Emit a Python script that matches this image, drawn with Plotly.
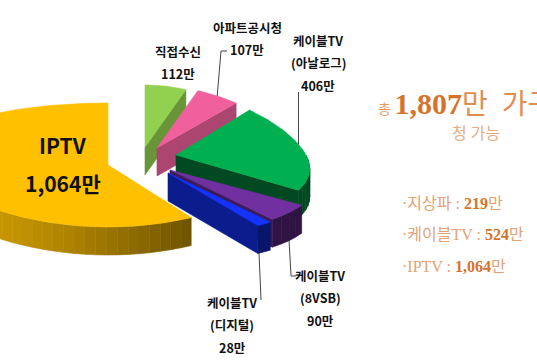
import numpy as np
import plotly.graph_objects as go

# ---------------- data ----------------
categories = ["직접수신", "아파트공시청", "케이블TV (아날로그)", "케이블TV (8VSB)", "케이블TV (디지털)", "IPTV"]
values = [112, 107, 406, 90, 28, 1064]
value_labels = ["112만", "107만", "406만", "90만", "28만", "1,064만"]
total_label = "1,807"
summary_names = ["지상파", "케이블TV", "IPTV"]
summary_values = ["219", "524", "1,064"]

# ---------------- style / layout ----------------
W, H = 537, 360
top_colors = ["#92D050", "#F0609C", "#00B050", "#7030A0", "#1433FF", "#FFC000"]
radial_shade = [0.72, 0.72, 0.42, 0.55, 0.55, 0.5]
centers = [(145, 147), (157, 148), (176, 155), (170, 170), (168, 173), (108, 165)]
radii = [140, 140, 130, 140, 140, 180]
persp = [0.25, 0.25, 0.25, 0.25, 0.25, -0.15]
RY = 62
DEPTH = 28
KFONT = "Noto Sans CJK KR"


def proj(i, th, z=0.0):
    cx, cy = centers[i]
    t = np.radians(th)
    x = cx + radii[i] * np.sin(t) * (1 - persp[i] * np.cos(t))
    y = cy - RY * np.cos(t) + z
    return float(x), float(y)


def scale(hexc, f):
    h = hexc.lstrip("#")
    r, g, b = (int(h[k:k + 2], 16) for k in (0, 2, 4))
    f = max(0.0, min(1.0, f))
    return "rgb(%d,%d,%d)" % (r * f, g * f, b * f)


def poly(fig, xs, ys, color):
    fig.add_trace(go.Scatter(x=xs + [xs[0]], y=ys + [ys[0]], mode="lines", fill="toself",
                             fillcolor=color, line=dict(color=color, width=0.6),
                             hoverinfo="skip", showlegend=False))


fig = go.Figure()
total = sum(values)
bounds = np.concatenate([[0], np.cumsum(values)]) * 360.0 / total

for i in range(len(values)):
    a, b = bounds[i], bounds[i + 1]
    cx, cy = centers[i]
    base = top_colors[i]
    # outer curved side (front half only)
    lo, hi = max(a, 90), min(b, 270)
    if hi > lo:
        nseg = max(1, int((hi - lo) / 4))
        edges = np.linspace(lo, hi, nseg + 1)
        for s in range(nseg):
            t0, t1 = edges[s], edges[s + 1]
            mid = 0.5 * (t0 + t1)
            f = 0.5 + 0.32 * np.cos(np.radians(mid - 250))
            f = max(f, 0.42)
            ts = np.linspace(t0, t1, 4)
            top = [proj(i, t) for t in ts]
            bot = [proj(i, t, DEPTH) for t in ts[::-1]]
            pts = top + bot
            poly(fig, [p[0] for p in pts], [p[1] for p in pts], scale(base, f))
    # radial cut faces facing the viewer
    for edge, normal in ((b, b + 90), (a, a - 90)):
        if np.cos(np.radians(normal)) < -1e-6:
            ex, ey = proj(i, edge)
            xs = [cx, ex, ex, cx]
            ys = [cy, ey, ey + DEPTH, cy + DEPTH]
            poly(fig, xs, ys, scale(base, radial_shade[i]))
    # top face
    n = max(3, int((b - a) / 1.5))
    arc = [proj(i, t) for t in np.linspace(a, b, n)]
    xs = [cx] + [p[0] for p in arc]
    ys = [cy] + [p[1] for p in arc]
    poly(fig, xs, ys, base)

# ---------------- leader lines ----------------
leaders = []
pa = proj(1, 0.5 * (bounds[1] + bounds[2]))
leaders.append(([pa[0], 221, 227], [pa[1], 51, 51]))
pg = proj(2, 80)
leaders.append(([pg[0], pg[0]], [pg[1], 92]))
pp = proj(3, 0.5 * (bounds[3] + bounds[4]), DEPTH)
leaders.append(([pp[0], pp[0] + 2, pp[0] + 7], [pp[1], 276, 276]))
pb = proj(4, bounds[5] - 0.5, DEPTH)
leaders.append(([pb[0], pb[0] + 2], [pb[1], 300]))
for xs, ys in leaders:
    fig.add_trace(go.Scatter(x=xs, y=ys, mode="lines", line=dict(color="#444", width=1),
                             hoverinfo="skip", showlegend=False))

# ---------------- labels ----------------
annotations = []


def txt(x, y, s, size=12, color="#111", family=KFONT, anchor="center"):
    annotations.append(dict(x=x, y=y, xref="x", yref="y", text=s, showarrow=False,
                            xanchor=anchor, yanchor="middle",
                            font=dict(family=family, size=size, color=color)))


def name_lines(name):
    if " (" in name:
        p, q = name.split(" (")
        return [p, "(" + q]
    return [name]


label_pos = {0: (178, 51), 1: (247, 27), 2: (318, 40), 3: (320, 275), 4: (232, 302)}
for i, (lx, ly) in label_pos.items():
    lines = name_lines(categories[i]) + [value_labels[i]]
    for j, line in enumerate(lines):
        txt(lx, ly + j * 22.5, "<b>%s</b>" % line, size=12.5)

txt(63, 145, "<b>%s</b>" % categories[5], size=21)
txt(63, 183, "<b>%s</b>" % value_labels[5], size=21)

SER = "Liberation Serif, " + KFONT
light = "#E3A274"
dark = "#D6732A"
title = ("<span style='font-size:14px;color:#E49A62'>총 </span>"
         "<span style=\"font-size:30px;color:%s\"><b>%s</b></span>"
         "<span style='font-size:28px;color:#E08E50'>만&nbsp; 가구 시</span>") % (dark, total_label)
txt(376, 103, title, size=28, family=SER, anchor="left")
txt(476, 133, "청 가능", size=16, color="#E7AC82", family=SER)

for j, (nm, vl) in enumerate(zip(summary_names, summary_values)):
    s = ("<span style='color:%s'>·%s : </span>"
         "<span style='color:%s'><b>%s</b></span>"
         "<span style='color:%s'>만</span>") % (light, nm, dark, vl, light)
    txt(400, 203 + j * 31.5, s, size=16, family=SER, anchor="left")

fig.update_layout(
    width=W, height=H, margin=dict(l=0, r=0, t=0, b=0),
    paper_bgcolor="white", plot_bgcolor="white",
    xaxis=dict(range=[0, W], visible=False, fixedrange=True),
    yaxis=dict(range=[H, 0], visible=False, fixedrange=True),
    annotations=annotations, showlegend=False,
)
fig.write_html("out.html", config={"displayModeBar": False},
               post_script="document.body.style.margin='0';document.body.style.overflow='hidden';")
